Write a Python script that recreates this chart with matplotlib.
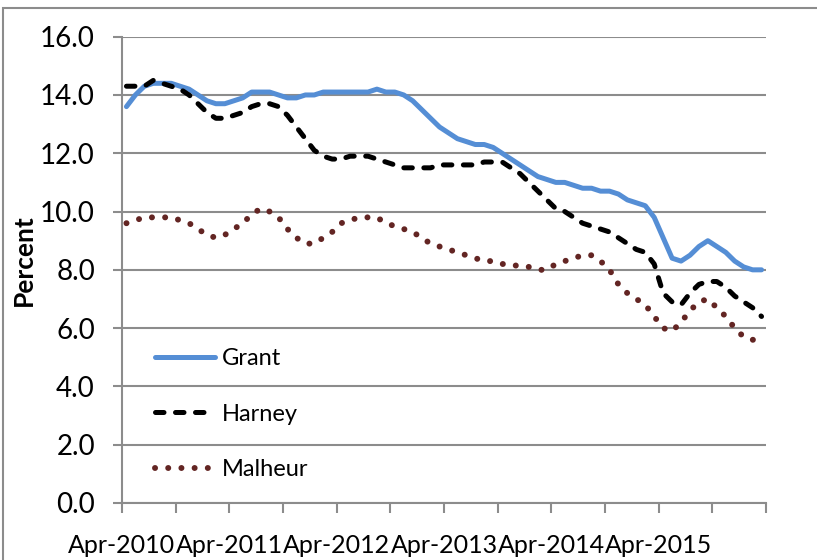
import numpy as np
import matplotlib
matplotlib.use("Agg")
import matplotlib.pyplot as plt
from matplotlib.patches import Rectangle

# monthly unemployment rate, Apr-2010 .. Mar-2016
grant = [13.6, 14.0, 14.3, 14.4, 14.4, 14.4, 14.3, 14.2, 14.0, 13.8, 13.7, 13.7,
         13.8, 13.9, 14.1, 14.1, 14.1, 14.0, 13.9, 13.9, 14.0, 14.0, 14.1, 14.1,
         14.1, 14.1, 14.1, 14.1, 14.2, 14.1, 14.1, 14.0, 13.8, 13.5, 13.2, 12.9,
         12.7, 12.5, 12.4, 12.3, 12.3, 12.2, 12.0, 11.8, 11.6, 11.4, 11.2, 11.1,
         11.0, 11.0, 10.9, 10.8, 10.8, 10.7, 10.7, 10.6, 10.4, 10.3, 10.2, 9.8,
         9.1, 8.4, 8.3, 8.5, 8.8, 9.0, 8.8, 8.6, 8.3, 8.1, 8.0, 8.0]
harney = [14.3, 14.3, 14.3, 14.5, 14.4, 14.3, 14.2, 14.0, 13.7, 13.4, 13.2, 13.2,
          13.3, 13.4, 13.6, 13.7, 13.7, 13.6, 13.3, 12.9, 12.5, 12.1, 11.9, 11.8,
          11.8, 11.9, 11.9, 11.9, 11.8, 11.7, 11.6, 11.5, 11.5, 11.5, 11.5, 11.6,
          11.6, 11.6, 11.6, 11.6, 11.7, 11.7, 11.7, 11.5, 11.3, 11.0, 10.7, 10.4,
          10.1, 10.0, 9.8, 9.6, 9.5, 9.4, 9.3, 9.1, 8.9, 8.7, 8.6, 8.2,
          7.2, 6.9, 6.8, 7.2, 7.5, 7.6, 7.6, 7.4, 7.1, 6.9, 6.7, 6.4]
malheur = [9.6, 9.7, 9.8, 9.8, 9.8, 9.8, 9.7, 9.6, 9.4, 9.2, 9.1, 9.2,
           9.4, 9.6, 9.9, 10.1, 10.0, 9.8, 9.4, 9.1, 8.9, 8.9, 9.1, 9.3,
           9.6, 9.7, 9.8, 9.8, 9.8, 9.6, 9.5, 9.4, 9.3, 9.1, 8.9, 8.8,
           8.7, 8.6, 8.5, 8.4, 8.3, 8.3, 8.2, 8.2, 8.1, 8.1, 8.0, 8.0,
           8.2, 8.3, 8.4, 8.5, 8.5, 8.3, 8.0, 7.5, 7.2, 7.0, 6.8, 6.4,
           6.0, 5.9, 6.2, 6.6, 6.9, 7.0, 6.7, 6.4, 6.0, 5.7, 5.6, 5.6]
year_labels = ["Apr-2010", "Apr-2011", "Apr-2012", "Apr-2013", "Apr-2014", "Apr-2015"]

plt.rcParams['font.family'] = ['Liberation Sans Narrow', 'Lato', 'DejaVu Sans']

fig = plt.figure(figsize=(8.17, 5.6), dpi=100)
ax = fig.add_axes([0.1493, 0.1018, 0.7883, 0.8327])

x = np.arange(len(grant)) + 0.5
ax.plot(x, grant, color="#558ED5", linewidth=3.6, label="Grant", solid_capstyle="round")
ax.plot(x, harney, color="black", linewidth=3.6, linestyle=(0, (1.7, 2.3)),
        dash_capstyle="round", label="Harney")
ax.plot(x, malheur, color="#632523", linewidth=4.3, linestyle=(0, (0.01, 2.2)),
        dash_capstyle="round", label="Malheur")

ax.set_xlim(0, 72)
ax.set_ylim(0, 16)
ax.set_yticks(np.arange(0, 17, 2))
ax.set_yticklabels([f"{v:.1f}" for v in np.arange(0, 17, 2)], fontsize=20)
ax.set_xticks(np.arange(0, 73, 6))
labels = []
for i in range(13):
    labels.append(year_labels[i // 2] if i % 2 == 0 and i // 2 < len(year_labels) else "")
ax.set_xticklabels(labels, fontsize=18)

ax.grid(axis="y", color="#8c8c8c", linewidth=1.5)
ax.set_axisbelow(True)
for s in ["top", "right"]:
    ax.spines[s].set_visible(False)
for s in ["left", "bottom"]:
    ax.spines[s].set_color("#8c8c8c")
    ax.spines[s].set_linewidth(1.5)
ax.tick_params(axis="y", length=6.5, width=1.5, color="#8c8c8c", pad=13)
ax.tick_params(axis="x", length=7, width=1.5, color="#8c8c8c", pad=15)

fig.text(24 / 817, 1 - 260 / 560, "Percent", rotation=90, fontsize=19,
         fontweight="bold", ha="center", va="center")

ax.legend(loc="upper left", bbox_to_anchor=(155 / 817, 1 - 348 / 560),
          bbox_transform=fig.transFigure, frameon=False, fontsize=17,
          handlelength=2.55, handletextpad=0.3, labelspacing=1.47,
          borderpad=0, borderaxespad=0)

fig.patches.append(Rectangle((3 / 817, -0.1), 1.2, 1 - 8 / 560 + 0.1,
                             transform=fig.transFigure, fill=False,
                             edgecolor="#8c8c8c", linewidth=1.5))

fig.savefig("out.png", dpi=100)
